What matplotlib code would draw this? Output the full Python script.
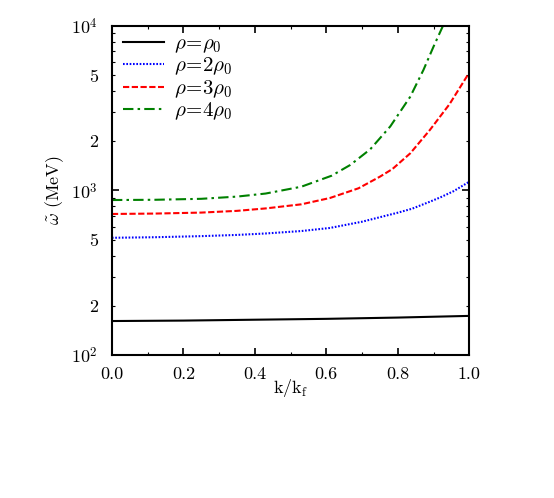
import numpy as np
import matplotlib
matplotlib.use('Agg')
import matplotlib.pyplot as plt
from matplotlib.ticker import FixedLocator, FuncFormatter, MultipleLocator, LogLocator

plt.rcParams['font.family'] = 'cmr10'
plt.rcParams['mathtext.fontset'] = 'cm'
plt.rcParams['axes.formatter.use_mathtext'] = True

k_rho1 = [0.0, 0.2, 0.4, 0.6, 0.8, 1.0]
w_rho1 = [161, 162, 164, 166, 169, 173]

k_rho2 = [0.0, 0.12, 0.25, 0.35, 0.43, 0.53, 0.61, 0.70, 0.80, 0.84, 0.89, 0.92, 0.956, 1.0]
w_rho2 = [516, 520, 528, 537, 548, 567, 592, 646, 733, 775, 855, 910, 990, 1130]

k_rho3 = [0.0, 0.12, 0.25, 0.35, 0.43, 0.53, 0.61, 0.69, 0.75, 0.785, 0.835, 0.89, 0.945, 1.0]
w_rho3 = [720, 724, 734, 752, 778, 824, 900, 1031, 1213, 1350, 1682, 2334, 3350, 5200]

k_rho4 = [0.0, 0.12, 0.25, 0.35, 0.43, 0.53, 0.615, 0.667, 0.723, 0.779, 0.835, 0.872, 0.90, 0.93]
w_rho4 = [875, 878, 890, 918, 958, 1054, 1230, 1429, 1780, 2450, 3716, 5410, 7480, 10400]

labels = [r'$\rho\!=\!\rho_0$', r'$\rho\!=\!2\rho_0$', r'$\rho\!=\!3\rho_0$', r'$\rho\!=\!4\rho_0$']

fig = plt.figure(figsize=(5.54, 4.98), dpi=100)
ax = fig.add_axes([0.202, 0.287, 0.645, 0.661])

ax.plot(k_rho1, w_rho1, color='black', lw=1.5, label=labels[0])
ax.plot(k_rho2, w_rho2, color='blue', lw=1.5, ls=(0, (0.8, 0.8)), label=labels[1])
ax.plot(k_rho3, w_rho3, color='red', lw=1.5, ls=(0, (3, 1.2)), label=labels[2])
ax.plot(k_rho4, w_rho4, color='green', lw=1.5, ls=(0, (5, 2, 1.2, 2)), label=labels[3])

ax.set_yscale('log')
ax.set_xlim(0, 1)
ax.set_ylim(100, 10000)

ax.xaxis.set_major_locator(MultipleLocator(0.2))
ax.xaxis.set_minor_locator(MultipleLocator(0.1))
ax.xaxis.set_major_formatter(FuncFormatter(lambda v, p: '%.1f' % v))

ax.yaxis.set_major_locator(FixedLocator([100, 1000, 10000]))
ax.yaxis.set_major_formatter(FuncFormatter(lambda v, p: r'$10^{%d}$' % round(np.log10(v))))
ax.yaxis.set_minor_locator(LogLocator(base=10, subs=np.arange(2, 10)))
def minor_fmt(v, p):
    m = v / 10 ** np.floor(np.log10(v) + 1e-9)
    if abs(m - 2) < 1e-6 or abs(m - 5) < 1e-6:
        return '%d' % round(m)
    return ''
ax.yaxis.set_minor_formatter(FuncFormatter(minor_fmt))

ax.tick_params(which='both', direction='in', top=True, right=True, labelsize=13)
ax.tick_params(axis='x', which='both', pad=8)
ax.tick_params(axis='y', which='both', pad=10)
ax.tick_params(which='major', length=5, width=1.2)
ax.tick_params(which='minor', length=2.5, width=0.8)
for s in ax.spines.values():
    s.set_linewidth(1.5)

ax.set_xlabel(r'k/k$_\mathrm{f}$', fontsize=13, labelpad=-3)
ax.set_ylabel(r'$\tilde{\omega}$ (MeV)', fontsize=13, labelpad=4)

ax.legend(loc='upper left', bbox_to_anchor=(0.008, 1.0), borderaxespad=0,
          frameon=False, fontsize=15, handlelength=1.95,
          handletextpad=0.5, labelspacing=0.05)

fig.savefig('out.png', dpi=100)
